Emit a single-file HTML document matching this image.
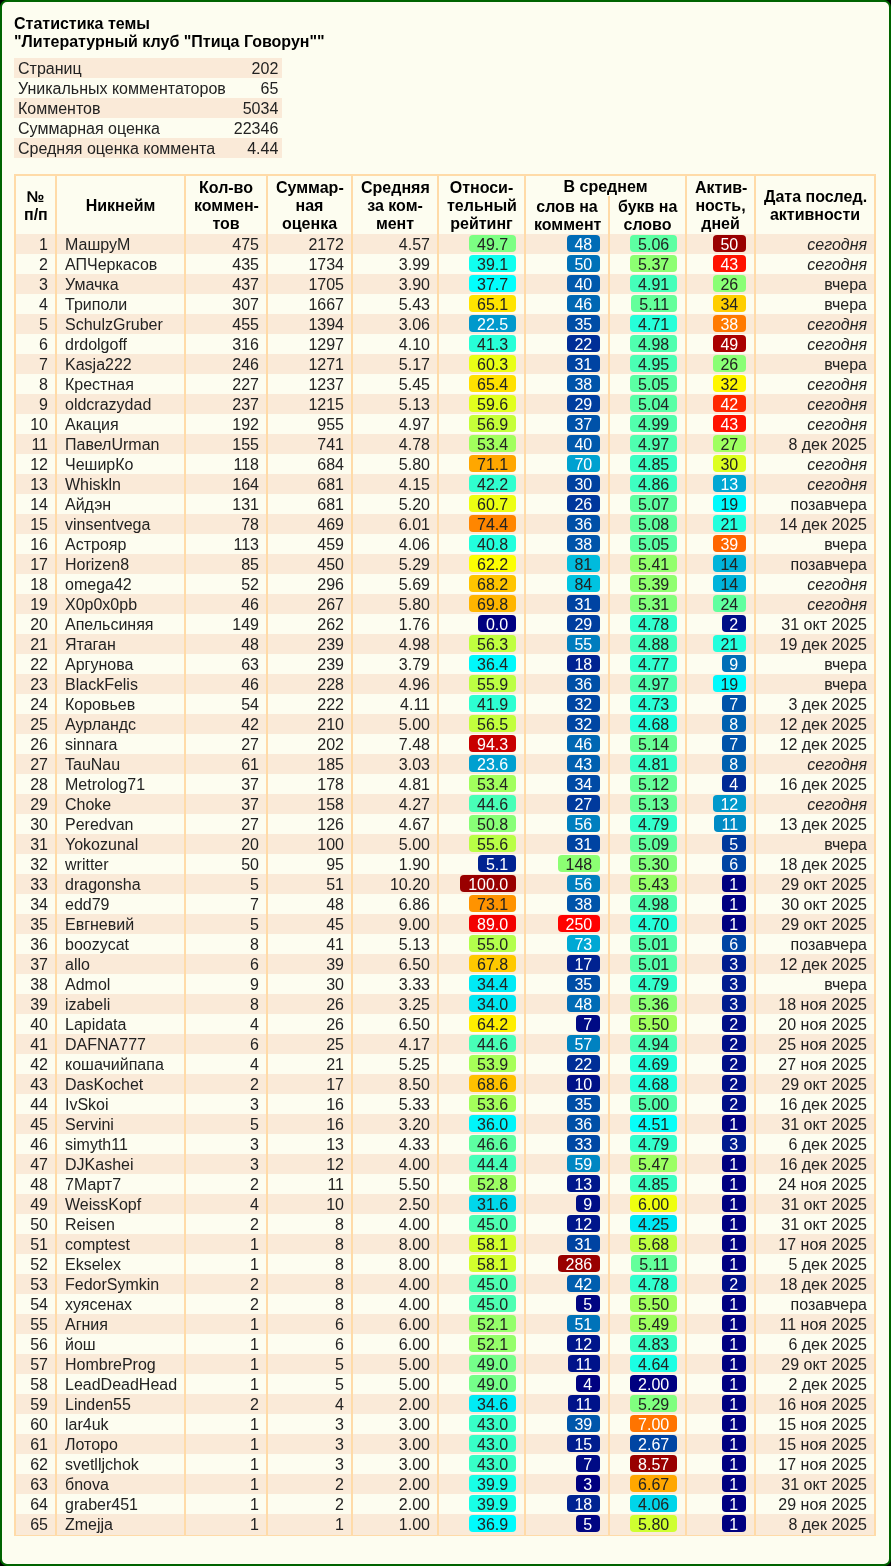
<!DOCTYPE html><html><head><meta charset="utf-8"><title>Статистика темы</title><style>
*{box-sizing:border-box}
html,body{margin:0;padding:0;background:#000}
body{width:891px;height:1566px;overflow:hidden;font-family:"Liberation Sans",sans-serif;font-size:16px;color:#000}
#w{will-change:transform;position:absolute;left:0;top:0;width:891px;height:1566px;border:2px solid #006400;border-radius:7px;background:#FDFDF0;padding:12px}
#t{font-weight:bold;line-height:18.4px;height:37px;position:relative;top:1px}
#s{border-collapse:collapse;margin-top:7px}
#s td{color:#222;padding:2px 4px 0;line-height:18px;height:20px;white-space:nowrap}
#s td+td{text-align:right}
#s tr:nth-child(odd){background:#FAEAD8}
#m{margin-top:16px;border-collapse:separate;border-spacing:0;border:1px solid #FFDBA8;table-layout:fixed;width:862px}
#m th,#m td{border-left:1px solid #FFDBA8;border-right:1px solid #FFDBA8;padding:2px 8px 0;line-height:18px;white-space:nowrap;overflow:visible}
#m th{font-weight:bold;text-align:center;vertical-align:middle}
#m tr.ha th{border-top:1px solid #FFDBA8}
#m td{color:#222;text-align:right;height:20px;padding-left:7px;padding-right:7px}
#m td.n{text-align:left;padding-left:8px}
#m tbody tr:nth-child(odd){background:#FAEAD8}
#m tbody tr:last-child td{padding-bottom:1px;height:21px}
.b{display:inline-block;vertical-align:top;height:17px;line-height:20px;margin-top:-1px;margin-right:1px;padding:0 7.8px;border-radius:4px}
.w{color:#fff}
i{font-style:italic}
</style></head><body><div id="w">
<div id="t">Статистика темы<br>"Литературный клуб "Птица Говорун""</div>
<table id="s"><tr><td>Страниц</td><td>202</td></tr><tr><td>Уникальных комментаторов</td><td>65</td></tr><tr><td>Комментов</td><td>5034</td></tr><tr><td>Суммарная оценка</td><td>22346</td></tr><tr><td>Средняя оценка коммента</td><td>4.44</td></tr></table>
<table id="m"><colgroup><col style="width:41px"><col style="width:129px"><col style="width:82px"><col style="width:85px"><col style="width:86px"><col style="width:87px"><col style="width:84px"><col style="width:77px"><col style="width:69px"><col style="width:120px"></colgroup>
<thead><tr class="ha"><th rowspan="2">№<br>п/п</th><th rowspan="2">Никнейм</th><th rowspan="2">Кол-во<br>коммен-<br>тов</th><th rowspan="2">Суммар-<br>ная<br>оценка</th><th rowspan="2">Средняя<br>за ком-<br>мент</th><th rowspan="2">Относи-<br>тельный<br>рейтинг</th><th colspan="2">В среднем</th><th rowspan="2">Актив-<br>ность,<br>дней</th><th rowspan="2">Дата послед.<br>активности</th></tr><tr><th>слов на<br>коммент</th><th>букв на<br>слово</th></tr></thead><tbody>
<tr><td>1</td><td class="n">МашруМ</td><td>475</td><td>2172</td><td>4.57</td><td><span class="b" style="background:#7CFF83">49.7</span></td><td><span class="b w" style="background:#006CB6">48</span></td><td><span class="b" style="background:#5DFFA2">5.06</span></td><td><span class="b w" style="background:#990000">50</span></td><td><i>сегодня</i></td></tr>
<tr><td>2</td><td class="n">АПЧеркасов</td><td>435</td><td>1734</td><td>3.99</td><td><span class="b" style="background:#10FFEF">39.1</span></td><td><span class="b w" style="background:#0071B8">50</span></td><td><span class="b" style="background:#8DFF72">5.37</span></td><td><span class="b w" style="background:#FF1200">43</span></td><td><i>сегодня</i></td></tr>
<tr><td>3</td><td class="n">Умачка</td><td>437</td><td>1705</td><td>3.90</td><td><span class="b" style="background:#02FFFD">37.7</span></td><td><span class="b w" style="background:#0059AC">40</span></td><td><span class="b" style="background:#45FFBA">4.91</span></td><td><span class="b" style="background:#8AFF75">26</span></td><td>вчера</td></tr>
<tr><td>4</td><td class="n">Триполи</td><td>307</td><td>1667</td><td>5.43</td><td><span class="b" style="background:#FFE400">65.1</span></td><td><span class="b w" style="background:#0067B3">46</span></td><td><span class="b" style="background:#64FF9B">5.11</span></td><td><span class="b" style="background:#FFCE00">34</span></td><td>вчера</td></tr>
<tr><td>5</td><td class="n">SchulzGruber</td><td>455</td><td>1394</td><td>3.06</td><td><span class="b w" style="background:#0099CC">22.5</span></td><td><span class="b w" style="background:#004DA6">35</span></td><td><span class="b" style="background:#26FFD9">4.71</span></td><td><span class="b w" style="background:#FF7A00">38</span></td><td><i>сегодня</i></td></tr>
<tr><td>6</td><td class="n">drdolgoff</td><td>316</td><td>1297</td><td>4.10</td><td><span class="b" style="background:#27FFD8">41.3</span></td><td><span class="b w" style="background:#002E97">22</span></td><td><span class="b" style="background:#50FFAF">4.98</span></td><td><span class="b w" style="background:#AA0000">49</span></td><td><i>сегодня</i></td></tr>
<tr><td>7</td><td class="n">Kasja222</td><td>246</td><td>1271</td><td>5.17</td><td><span class="b" style="background:#E9FF16">60.3</span></td><td><span class="b w" style="background:#0043A2">31</span></td><td><span class="b" style="background:#4BFFB4">4.95</span></td><td><span class="b" style="background:#8AFF75">26</span></td><td>вчера</td></tr>
<tr><td>8</td><td class="n">Крестная</td><td>227</td><td>1237</td><td>5.45</td><td><span class="b" style="background:#FFE100">65.4</span></td><td><span class="b w" style="background:#0054AA">38</span></td><td><span class="b" style="background:#5BFFA4">5.05</span></td><td><span class="b" style="background:#FFF700">32</span></td><td><i>сегодня</i></td></tr>
<tr><td>9</td><td class="n">oldcrazydad</td><td>237</td><td>1215</td><td>5.13</td><td><span class="b" style="background:#E1FF1E">59.6</span></td><td><span class="b w" style="background:#003E9F">29</span></td><td><span class="b" style="background:#59FFA6">5.04</span></td><td><span class="b w" style="background:#FF2700">42</span></td><td><i>сегодня</i></td></tr>
<tr><td>10</td><td class="n">Акация</td><td>192</td><td>955</td><td>4.97</td><td><span class="b" style="background:#C6FF39">56.9</span></td><td><span class="b w" style="background:#0052A9">37</span></td><td><span class="b" style="background:#52FFAD">4.99</span></td><td><span class="b w" style="background:#FF1200">43</span></td><td><i>сегодня</i></td></tr>
<tr><td>11</td><td class="n">ПавелUrman</td><td>155</td><td>741</td><td>4.78</td><td><span class="b" style="background:#A2FF5D">53.4</span></td><td><span class="b w" style="background:#0059AC">40</span></td><td><span class="b" style="background:#4FFFB0">4.97</span></td><td><span class="b" style="background:#9FFF60">27</span></td><td>8 дек 2025</td></tr>
<tr><td>12</td><td class="n">ЧеширКо</td><td>118</td><td>684</td><td>5.80</td><td><span class="b" style="background:#FFA700">71.1</span></td><td><span class="b w" style="background:#00A1D0">70</span></td><td><span class="b" style="background:#3CFFC3">4.85</span></td><td><span class="b" style="background:#DDFF22">30</span></td><td><i>сегодня</i></td></tr>
<tr><td>13</td><td class="n">Whiskln</td><td>164</td><td>681</td><td>4.15</td><td><span class="b" style="background:#30FFCF">42.2</span></td><td><span class="b w" style="background:#0041A0">30</span></td><td><span class="b" style="background:#3EFFC1">4.86</span></td><td><span class="b w" style="background:#00A7D3">13</span></td><td><i>сегодня</i></td></tr>
<tr><td>14</td><td class="n">Айдэн</td><td>131</td><td>681</td><td>5.20</td><td><span class="b" style="background:#EDFF12">60.7</span></td><td><span class="b w" style="background:#00379C">26</span></td><td><span class="b" style="background:#5EFFA1">5.07</span></td><td><span class="b" style="background:#00FAFC">19</span></td><td>позавчера</td></tr>
<tr><td>15</td><td class="n">vinsentvega</td><td>78</td><td>469</td><td>6.01</td><td><span class="b" style="background:#FF8600">74.4</span></td><td><span class="b w" style="background:#004FA7">36</span></td><td><span class="b" style="background:#60FF9F">5.08</span></td><td><span class="b" style="background:#22FFDD">21</span></td><td>14 дек 2025</td></tr>
<tr><td>16</td><td class="n">Астрояр</td><td>113</td><td>459</td><td>4.06</td><td><span class="b" style="background:#22FFDD">40.8</span></td><td><span class="b w" style="background:#0054AA">38</span></td><td><span class="b" style="background:#5BFFA4">5.05</span></td><td><span class="b w" style="background:#FF6500">39</span></td><td>вчера</td></tr>
<tr><td>17</td><td class="n">Horizen8</td><td>85</td><td>450</td><td>5.29</td><td><span class="b" style="background:#FCFF03">62.2</span></td><td><span class="b" style="background:#00BBDD">81</span></td><td><span class="b" style="background:#93FF6C">5.41</span></td><td><span class="b" style="background:#00B4DA">14</span></td><td>позавчера</td></tr>
<tr><td>18</td><td class="n">omega42</td><td>52</td><td>296</td><td>5.69</td><td><span class="b" style="background:#FFC500">68.2</span></td><td><span class="b" style="background:#00C3E1">84</span></td><td><span class="b" style="background:#90FF6F">5.39</span></td><td><span class="b" style="background:#00B4DA">14</span></td><td><i>сегодня</i></td></tr>
<tr><td>19</td><td class="n">X0p0x0pb</td><td>46</td><td>267</td><td>5.80</td><td><span class="b" style="background:#FFB500">69.8</span></td><td><span class="b w" style="background:#0043A2">31</span></td><td><span class="b" style="background:#83FF7C">5.31</span></td><td><span class="b" style="background:#60FF9F">24</span></td><td><i>сегодня</i></td></tr>
<tr><td>20</td><td class="n">Апельсиняя</td><td>149</td><td>262</td><td>1.76</td><td><span class="b w" style="background:#000080">0.0</span></td><td><span class="b w" style="background:#003E9F">29</span></td><td><span class="b" style="background:#31FFCE">4.78</span></td><td><span class="b w" style="background:#000E87">2</span></td><td>31 окт 2025</td></tr>
<tr><td>21</td><td class="n">Ятаган</td><td>48</td><td>239</td><td>4.98</td><td><span class="b" style="background:#C0FF3F">56.3</span></td><td><span class="b w" style="background:#007DBE">55</span></td><td><span class="b" style="background:#41FFBE">4.88</span></td><td><span class="b" style="background:#22FFDD">21</span></td><td>19 дек 2025</td></tr>
<tr><td>22</td><td class="n">Аргунова</td><td>63</td><td>239</td><td>3.79</td><td><span class="b" style="background:#00F8FB">36.4</span></td><td><span class="b w" style="background:#002492">18</span></td><td><span class="b" style="background:#30FFCF">4.77</span></td><td><span class="b w" style="background:#006FB7">9</span></td><td>вчера</td></tr>
<tr><td>23</td><td class="n">BlackFelis</td><td>46</td><td>228</td><td>4.96</td><td><span class="b" style="background:#BCFF43">55.9</span></td><td><span class="b w" style="background:#004FA7">36</span></td><td><span class="b" style="background:#4FFFB0">4.97</span></td><td><span class="b" style="background:#00FAFC">19</span></td><td>вчера</td></tr>
<tr><td>24</td><td class="n">Коровьев</td><td>54</td><td>222</td><td>4.11</td><td><span class="b" style="background:#2DFFD2">41.9</span></td><td><span class="b w" style="background:#0046A3">32</span></td><td><span class="b" style="background:#29FFD6">4.73</span></td><td><span class="b w" style="background:#0053A9">7</span></td><td>3 дек 2025</td></tr>
<tr><td>25</td><td class="n">Аурландс</td><td>42</td><td>210</td><td>5.00</td><td><span class="b" style="background:#C2FF3D">56.5</span></td><td><span class="b w" style="background:#0046A3">32</span></td><td><span class="b" style="background:#22FFDD">4.68</span></td><td><span class="b w" style="background:#0061B0">8</span></td><td>12 дек 2025</td></tr>
<tr><td>26</td><td class="n">sinnara</td><td>27</td><td>202</td><td>7.48</td><td><span class="b w" style="background:#C80000">94.3</span></td><td><span class="b w" style="background:#0067B3">46</span></td><td><span class="b" style="background:#69FF96">5.14</span></td><td><span class="b w" style="background:#0053A9">7</span></td><td>12 дек 2025</td></tr>
<tr><td>27</td><td class="n">TauNau</td><td>61</td><td>185</td><td>3.03</td><td><span class="b w" style="background:#00A0D0">23.6</span></td><td><span class="b w" style="background:#0060B0">43</span></td><td><span class="b" style="background:#36FFC9">4.81</span></td><td><span class="b w" style="background:#0061B0">8</span></td><td><i>сегодня</i></td></tr>
<tr><td>28</td><td class="n">Metrolog71</td><td>37</td><td>178</td><td>4.81</td><td><span class="b" style="background:#A2FF5D">53.4</span></td><td><span class="b w" style="background:#004AA5">34</span></td><td><span class="b" style="background:#66FF99">5.12</span></td><td><span class="b w" style="background:#002A95">4</span></td><td>16 дек 2025</td></tr>
<tr><td>29</td><td class="n">Choke</td><td>37</td><td>158</td><td>4.27</td><td><span class="b" style="background:#48FFB7">44.6</span></td><td><span class="b w" style="background:#003A9D">27</span></td><td><span class="b" style="background:#67FF98">5.13</span></td><td><span class="b w" style="background:#0099CC">12</span></td><td><i>сегодня</i></td></tr>
<tr><td>30</td><td class="n">Peredvan</td><td>27</td><td>126</td><td>4.67</td><td><span class="b" style="background:#88FF77">50.8</span></td><td><span class="b w" style="background:#007FBF">56</span></td><td><span class="b" style="background:#33FFCC">4.79</span></td><td><span class="b w" style="background:#008BC5">11</span></td><td>13 дек 2025</td></tr>
<tr><td>31</td><td class="n">Yokozunal</td><td>20</td><td>100</td><td>5.00</td><td><span class="b" style="background:#B9FF46">55.6</span></td><td><span class="b w" style="background:#0043A2">31</span></td><td><span class="b" style="background:#61FF9E">5.09</span></td><td><span class="b w" style="background:#00389C">5</span></td><td>вчера</td></tr>
<tr><td>32</td><td class="n">writter</td><td>50</td><td>95</td><td>1.90</td><td><span class="b w" style="background:#002391">5.1</span></td><td><span class="b" style="background:#8CFF73">148</span></td><td><span class="b" style="background:#82FF7D">5.30</span></td><td><span class="b w" style="background:#0045A3">6</span></td><td>18 дек 2025</td></tr>
<tr><td>33</td><td class="n">dragonsha</td><td>5</td><td>51</td><td>10.20</td><td><span class="b w" style="background:#990000">100.0</span></td><td><span class="b w" style="background:#007FBF">56</span></td><td><span class="b" style="background:#96FF69">5.43</span></td><td><span class="b w" style="background:#000080">1</span></td><td>29 окт 2025</td></tr>
<tr><td>34</td><td class="n">edd79</td><td>7</td><td>48</td><td>6.86</td><td><span class="b" style="background:#FF9300">73.1</span></td><td><span class="b w" style="background:#0054AA">38</span></td><td><span class="b" style="background:#50FFAF">4.98</span></td><td><span class="b w" style="background:#000080">1</span></td><td>30 окт 2025</td></tr>
<tr><td>35</td><td class="n">Евгневий</td><td>5</td><td>45</td><td>9.00</td><td><span class="b w" style="background:#F30000">89.0</span></td><td><span class="b w" style="background:#FF0200">250</span></td><td><span class="b" style="background:#25FFDA">4.70</span></td><td><span class="b w" style="background:#000080">1</span></td><td>29 окт 2025</td></tr>
<tr><td>36</td><td class="n">boozycat</td><td>8</td><td>41</td><td>5.13</td><td><span class="b" style="background:#B3FF4C">55.0</span></td><td><span class="b w" style="background:#00A8D4">73</span></td><td><span class="b" style="background:#55FFAA">5.01</span></td><td><span class="b w" style="background:#0045A3">6</span></td><td>позавчера</td></tr>
<tr><td>37</td><td class="n">allo</td><td>6</td><td>39</td><td>6.50</td><td><span class="b" style="background:#FFC900">67.8</span></td><td><span class="b w" style="background:#002291">17</span></td><td><span class="b" style="background:#55FFAA">5.01</span></td><td><span class="b w" style="background:#001C8E">3</span></td><td>12 дек 2025</td></tr>
<tr><td>38</td><td class="n">Admol</td><td>9</td><td>30</td><td>3.33</td><td><span class="b" style="background:#00EAF5">34.4</span></td><td><span class="b w" style="background:#004DA6">35</span></td><td><span class="b" style="background:#33FFCC">4.79</span></td><td><span class="b w" style="background:#001C8E">3</span></td><td>вчера</td></tr>
<tr><td>39</td><td class="n">izabeli</td><td>8</td><td>26</td><td>3.25</td><td><span class="b" style="background:#00E7F3">34.0</span></td><td><span class="b w" style="background:#006CB6">48</span></td><td><span class="b" style="background:#8BFF74">5.36</span></td><td><span class="b w" style="background:#001C8E">3</span></td><td>18 ноя 2025</td></tr>
<tr><td>40</td><td class="n">Lapidata</td><td>4</td><td>26</td><td>6.50</td><td><span class="b" style="background:#FFEE00">64.2</span></td><td><span class="b w" style="background:#000A85">7</span></td><td><span class="b" style="background:#A1FF5E">5.50</span></td><td><span class="b w" style="background:#000E87">2</span></td><td>20 ноя 2025</td></tr>
<tr><td>41</td><td class="n">DAFNA777</td><td>6</td><td>25</td><td>4.17</td><td><span class="b" style="background:#48FFB7">44.6</span></td><td><span class="b w" style="background:#0082C1">57</span></td><td><span class="b" style="background:#4AFFB5">4.94</span></td><td><span class="b w" style="background:#000E87">2</span></td><td>25 ноя 2025</td></tr>
<tr><td>42</td><td class="n">кошачийпапа</td><td>4</td><td>21</td><td>5.25</td><td><span class="b" style="background:#A7FF58">53.9</span></td><td><span class="b w" style="background:#002E97">22</span></td><td><span class="b" style="background:#23FFDC">4.69</span></td><td><span class="b w" style="background:#000E87">2</span></td><td>27 ноя 2025</td></tr>
<tr><td>43</td><td class="n">DasKochet</td><td>2</td><td>17</td><td>8.50</td><td><span class="b" style="background:#FFC100">68.6</span></td><td><span class="b w" style="background:#001188">10</span></td><td><span class="b" style="background:#22FFDD">4.68</span></td><td><span class="b w" style="background:#000E87">2</span></td><td>29 окт 2025</td></tr>
<tr><td>44</td><td class="n">IvSkoi</td><td>3</td><td>16</td><td>5.33</td><td><span class="b" style="background:#A4FF5B">53.6</span></td><td><span class="b w" style="background:#004DA6">35</span></td><td><span class="b" style="background:#53FFAC">5.00</span></td><td><span class="b w" style="background:#000E87">2</span></td><td>16 дек 2025</td></tr>
<tr><td>45</td><td class="n">Servini</td><td>5</td><td>16</td><td>3.20</td><td><span class="b" style="background:#00F5FA">36.0</span></td><td><span class="b w" style="background:#004FA7">36</span></td><td><span class="b" style="background:#07FFF8">4.51</span></td><td><span class="b w" style="background:#000080">1</span></td><td>31 окт 2025</td></tr>
<tr><td>46</td><td class="n">simyth11</td><td>3</td><td>13</td><td>4.33</td><td><span class="b" style="background:#5DFFA2">46.6</span></td><td><span class="b w" style="background:#0048A4">33</span></td><td><span class="b" style="background:#33FFCC">4.79</span></td><td><span class="b w" style="background:#001C8E">3</span></td><td>6 дек 2025</td></tr>
<tr><td>47</td><td class="n">DJKashei</td><td>3</td><td>12</td><td>4.00</td><td><span class="b" style="background:#46FFB9">44.4</span></td><td><span class="b w" style="background:#0087C3">59</span></td><td><span class="b" style="background:#9CFF63">5.47</span></td><td><span class="b w" style="background:#000080">1</span></td><td>16 дек 2025</td></tr>
<tr><td>48</td><td class="n">7Март7</td><td>2</td><td>11</td><td>5.50</td><td><span class="b" style="background:#9CFF63">52.8</span></td><td><span class="b w" style="background:#00188C">13</span></td><td><span class="b" style="background:#3CFFC3">4.85</span></td><td><span class="b w" style="background:#000080">1</span></td><td>24 ноя 2025</td></tr>
<tr><td>49</td><td class="n">WeissKopf</td><td>4</td><td>10</td><td>2.50</td><td><span class="b" style="background:#00D7EB">31.6</span></td><td><span class="b w" style="background:#000E87">9</span></td><td><span class="b" style="background:#EFFF10">6.00</span></td><td><span class="b w" style="background:#000080">1</span></td><td>31 окт 2025</td></tr>
<tr><td>50</td><td class="n">Reisen</td><td>2</td><td>8</td><td>4.00</td><td><span class="b" style="background:#4DFFB2">45.0</span></td><td><span class="b w" style="background:#00168B">12</span></td><td><span class="b" style="background:#00E9F4">4.25</span></td><td><span class="b w" style="background:#000080">1</span></td><td>31 окт 2025</td></tr>
<tr><td>51</td><td class="n">comptest</td><td>1</td><td>8</td><td>8.00</td><td><span class="b" style="background:#D2FF2D">58.1</span></td><td><span class="b w" style="background:#0043A2">31</span></td><td><span class="b" style="background:#BDFF42">5.68</span></td><td><span class="b w" style="background:#000080">1</span></td><td>17 ноя 2025</td></tr>
<tr><td>52</td><td class="n">Ekselex</td><td>1</td><td>8</td><td>8.00</td><td><span class="b" style="background:#D2FF2D">58.1</span></td><td><span class="b w" style="background:#990000">286</span></td><td><span class="b" style="background:#64FF9B">5.11</span></td><td><span class="b w" style="background:#000080">1</span></td><td>5 дек 2025</td></tr>
<tr><td>53</td><td class="n">FedorSymkin</td><td>2</td><td>8</td><td>4.00</td><td><span class="b" style="background:#4DFFB2">45.0</span></td><td><span class="b w" style="background:#005EAF">42</span></td><td><span class="b" style="background:#31FFCE">4.78</span></td><td><span class="b w" style="background:#000E87">2</span></td><td>18 дек 2025</td></tr>
<tr><td>54</td><td class="n">хуясенах</td><td>2</td><td>8</td><td>4.00</td><td><span class="b" style="background:#4DFFB2">45.0</span></td><td><span class="b w" style="background:#000582">5</span></td><td><span class="b" style="background:#A1FF5E">5.50</span></td><td><span class="b w" style="background:#000080">1</span></td><td>позавчера</td></tr>
<tr><td>55</td><td class="n">Агния</td><td>1</td><td>6</td><td>6.00</td><td><span class="b" style="background:#95FF6A">52.1</span></td><td><span class="b w" style="background:#0073B9">51</span></td><td><span class="b" style="background:#9FFF60">5.49</span></td><td><span class="b w" style="background:#000080">1</span></td><td>11 ноя 2025</td></tr>
<tr><td>56</td><td class="n">йош</td><td>1</td><td>6</td><td>6.00</td><td><span class="b" style="background:#95FF6A">52.1</span></td><td><span class="b w" style="background:#00168B">12</span></td><td><span class="b" style="background:#39FFC6">4.83</span></td><td><span class="b w" style="background:#000080">1</span></td><td>6 дек 2025</td></tr>
<tr><td>57</td><td class="n">HombreProg</td><td>1</td><td>5</td><td>5.00</td><td><span class="b" style="background:#75FF8A">49.0</span></td><td><span class="b w" style="background:#00138A">11</span></td><td><span class="b" style="background:#1BFFE4">4.64</span></td><td><span class="b w" style="background:#000080">1</span></td><td>29 окт 2025</td></tr>
<tr><td>58</td><td class="n">LeadDeadHead</td><td>1</td><td>5</td><td>5.00</td><td><span class="b" style="background:#75FF8A">49.0</span></td><td><span class="b w" style="background:#000281">4</span></td><td><span class="b w" style="background:#000080">2.00</span></td><td><span class="b w" style="background:#000080">1</span></td><td>2 дек 2025</td></tr>
<tr><td>59</td><td class="n">Linden55</td><td>2</td><td>4</td><td>2.00</td><td><span class="b" style="background:#00EBF5">34.6</span></td><td><span class="b w" style="background:#00138A">11</span></td><td><span class="b" style="background:#80FF7F">5.29</span></td><td><span class="b w" style="background:#000080">1</span></td><td>16 ноя 2025</td></tr>
<tr><td>60</td><td class="n">lar4uk</td><td>1</td><td>3</td><td>3.00</td><td><span class="b" style="background:#38FFC7">43.0</span></td><td><span class="b w" style="background:#0057AB">39</span></td><td><span class="b w" style="background:#FF7400">7.00</span></td><td><span class="b w" style="background:#000080">1</span></td><td>15 ноя 2025</td></tr>
<tr><td>61</td><td class="n">Лоторо</td><td>1</td><td>3</td><td>3.00</td><td><span class="b" style="background:#38FFC7">43.0</span></td><td><span class="b w" style="background:#001D8E">15</span></td><td><span class="b w" style="background:#0045A3">2.67</span></td><td><span class="b w" style="background:#000080">1</span></td><td>15 ноя 2025</td></tr>
<tr><td>62</td><td class="n">svetlljchok</td><td>1</td><td>3</td><td>3.00</td><td><span class="b" style="background:#38FFC7">43.0</span></td><td><span class="b w" style="background:#000A85">7</span></td><td><span class="b w" style="background:#990000">8.57</span></td><td><span class="b w" style="background:#000080">1</span></td><td>17 ноя 2025</td></tr>
<tr><td>63</td><td class="n">бnova</td><td>1</td><td>2</td><td>2.00</td><td><span class="b" style="background:#18FFE7">39.9</span></td><td><span class="b w" style="background:#000080">3</span></td><td><span class="b" style="background:#FFA700">6.67</span></td><td><span class="b w" style="background:#000080">1</span></td><td>31 окт 2025</td></tr>
<tr><td>64</td><td class="n">graber451</td><td>1</td><td>2</td><td>2.00</td><td><span class="b" style="background:#18FFE7">39.9</span></td><td><span class="b w" style="background:#002492">18</span></td><td><span class="b" style="background:#00D5EA">4.06</span></td><td><span class="b w" style="background:#000080">1</span></td><td>29 ноя 2025</td></tr>
<tr><td>65</td><td class="n">Zmejja</td><td>1</td><td>1</td><td>1.00</td><td><span class="b" style="background:#00FBFD">36.9</span></td><td><span class="b w" style="background:#000582">5</span></td><td><span class="b" style="background:#CFFF30">5.80</span></td><td><span class="b w" style="background:#000080">1</span></td><td>8 дек 2025</td></tr>
</tbody></table></div></body></html>
